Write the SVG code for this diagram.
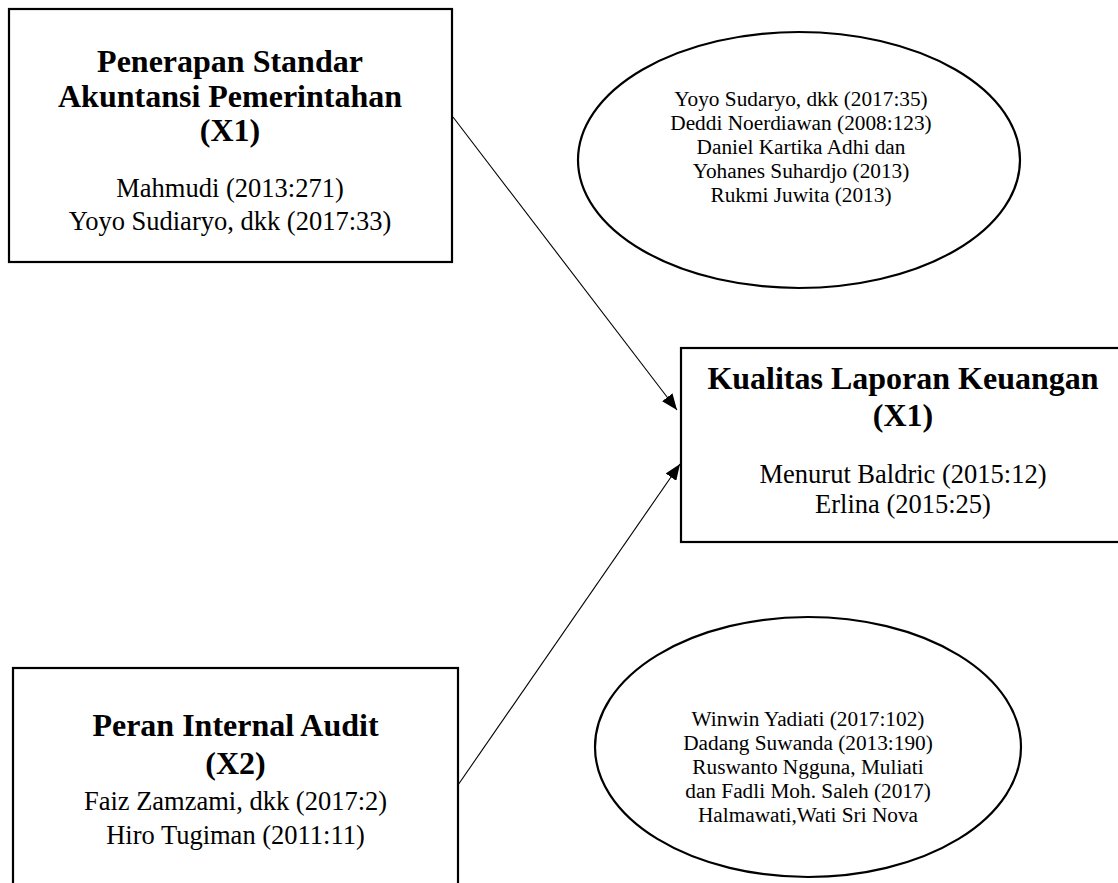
<svg xmlns="http://www.w3.org/2000/svg" width="1118" height="883" viewBox="0 0 1118 883">
<style>
.box{fill:#fff;stroke:#000;stroke-width:2.2}
.ell{fill:#fff;stroke:#000;stroke-width:2.2}
.t{font-family:"Liberation Serif","Times New Roman",serif;fill:#000;text-anchor:middle}
.b{font-weight:bold;font-size:32px}
.r{font-size:26.5px}
.s{font-size:21.3px}
.con{stroke:#000;stroke-width:1.1;fill:none}
</style>
<defs>
<marker id="ah" markerUnits="userSpaceOnUse" markerWidth="17" markerHeight="13" refX="16" refY="6.5" orient="auto">
<path d="M0,0 L16,6.5 L0,13 Z" fill="#000"/>
</marker>
</defs>
<rect width="1118" height="883" fill="#fff"/>
<g id="node-x1">
<rect class="box" x="9" y="9" width="443" height="253"/>
<text class="t b" x="230" y="72">Penerapan Standar</text>
<text class="t b" x="230" y="107">Akuntansi Pemerintahan</text>
<text class="t b" x="230" y="141">(X1)</text>
<text class="t r" x="230" y="197">Mahmudi (2013:271)</text>
<text class="t r" x="230" y="230">Yoyo Sudiaryo, dkk (2017:33)</text>
</g>
<g id="node-ref1">
<ellipse class="ell" cx="799" cy="160" rx="221" ry="128"/>
<text class="t s" x="801" y="106">Yoyo Sudaryo, dkk (2017:35)</text>
<text class="t s" x="801" y="130">Deddi Noerdiawan (2008:123)</text>
<text class="t s" x="801" y="154">Daniel Kartika Adhi dan</text>
<text class="t s" x="801" y="178">Yohanes Suhardjo (2013)</text>
<text class="t s" x="801" y="202">Rukmi Juwita (2013)</text>
</g>
<g id="node-y">
<rect class="box" x="681" y="348" width="444" height="194"/>
<text class="t b" x="903" y="389">Kualitas Laporan Keuangan</text>
<text class="t b" x="903" y="426">(X1)</text>
<text class="t r" x="903" y="483">Menurut Baldric (2015:12)</text>
<text class="t r" x="903" y="513">Erlina (2015:25)</text>
</g>
<g id="node-x2">
<rect class="box" x="13" y="668" width="445" height="240"/>
<text class="t b" x="235.5" y="736">Peran Internal Audit</text>
<text class="t b" x="235.5" y="774">(X2)</text>
<text class="t r" x="235.5" y="810">Faiz Zamzami, dkk (2017:2)</text>
<text class="t r" x="235.5" y="844">Hiro Tugiman (2011:11)</text>
</g>
<g id="node-ref2">
<ellipse class="ell" cx="808" cy="747" rx="213" ry="130"/>
<text class="t s" x="808" y="726">Winwin Yadiati (2017:102)</text>
<text class="t s" x="808" y="750">Dadang Suwanda (2013:190)</text>
<text class="t s" x="808" y="774">Ruswanto Ngguna, Muliati</text>
<text class="t s" x="808" y="798">dan Fadli Moh. Saleh (2017)</text>
<text class="t s" x="808" y="822">Halmawati,Wati Sri Nova</text>
</g>
<g id="connectors">
<line class="con" x1="453" y1="117" x2="677" y2="410" marker-end="url(#ah)"/>
<line class="con" x1="458" y1="785" x2="680" y2="464" marker-end="url(#ah)"/>
</g>
</svg>
